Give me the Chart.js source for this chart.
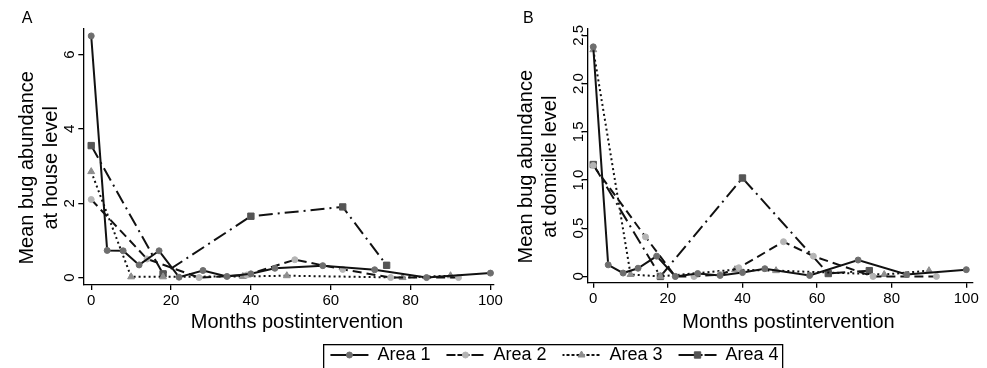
<!DOCTYPE html>
<html>
<head>
<meta charset="utf-8">
<script src="https://cdn.jsdelivr.net/npm/chart.js@4.4.1/dist/chart.umd.min.js"></script>
<style>
  body { margin: 0; background: #fff; width: 987px; height: 368px; position: relative; overflow: hidden; }
  canvas { position: absolute; }
</style>
</head>
<body>
<canvas id="panelA" width="505" height="340" style="left:0;top:0"></canvas>
<canvas id="panelB" width="487" height="340" style="left:500px;top:0"></canvas>
<canvas id="legend" width="499" height="120" style="left:305px;top:330px"></canvas>
<script>
const areaNames = ['Area 1', 'Area 2', 'Area 3', 'Area 4'];
const xTicks = [0, 20, 40, 60, 80, 100];

// A: house level
const monthsA1 = [0, 4, 8, 12, 17, 22, 28, 34, 40, 46, 58, 71, 84, 100];
const houseA1  = [6.5, 0.73, 0.72, 0.34, 0.72, 0.01, 0.19, 0.03, 0.1, 0.25, 0.32, 0.21, 0.0, 0.12];
const monthsA2 = [0, 14, 27, 39, 51, 63, 75, 92];
const houseA2  = [2.1, 0.5, 0.0, 0.07, 0.48, 0.22, 0.0, 0.0];
const monthsA3 = [0, 10, 18, 38, 49, 78, 90];
const houseA3  = [2.85, 0.02, 0.02, 0.03, 0.05, 0.0, 0.05];
const monthsA4 = [0, 18, 40, 63, 74];
const houseA4  = [3.55, 0.1, 1.65, 1.9, 0.33];

// B: domicile level
const monthsB1 = [0, 4, 8, 12, 17, 22, 28, 34, 40, 46, 58, 71, 84, 100];
const domB1    = [2.38, 0.12, 0.035, 0.085, 0.21, 0.0, 0.03, 0.01, 0.04, 0.08, 0.01, 0.17, 0.02, 0.07];
const monthsB2 = [0, 14, 22, 27, 34, 39, 51, 59, 75, 92];
const domB2    = [1.15, 0.41, 0.0, 0.0, 0.02, 0.09, 0.36, 0.21, 0.0, 0.0];
const monthsB3 = [0, 10, 18, 38, 49, 78, 90];
const domB3    = [2.35, 0.02, 0.0, 0.07, 0.06, 0.02, 0.06];
const monthsB4 = [0, 18, 40, 63, 74];
const domB4    = [1.16, 0.0, 1.02, 0.03, 0.06];

const yTicksA = [0, 2, 4, 6];
const yTicksB = [0, 0.5, 1, 1.5, 2, 2.5];

const areaStyles = [
  { dash: [],            shape: 'circle',   radius: 3,   point: '#6e6e6e' },
  { dash: [9, 5],        shape: 'circle',   radius: 3,   point: '#b4b4b4' },
  { dash: [2, 3],        shape: 'triangle', radius: 4,   point: '#8e8e8e' },
  { dash: [14, 5, 2, 5], shape: 'rect',     radius: 4.5, point: '#555555' }
];

Chart.defaults.font.family = '"Liberation Sans", Arial, Helvetica, sans-serif';
Chart.defaults.color = '#000';

function zip(xs, ys) {
  return xs.map((x, i) => ({ x: x, y: ys[i] }));
}

function makeDatasets(series) {
  return series.map((s, i) => ({
    label: areaNames[i],
    data: zip(s[0], s[1]),
    borderColor: '#111',
    borderWidth: 2,
    borderDash: areaStyles[i].dash,
    backgroundColor: 'rgba(0,0,0,0)',
    pointStyle: areaStyles[i].shape,
    pointRadius: areaStyles[i].radius,
    pointBackgroundColor: areaStyles[i].point,
    pointBorderColor: areaStyles[i].point,
    pointBorderWidth: 1,
    tension: 0
  }));
}

function panel(el, opts) {
  return new Chart(el, {
    type: 'line',
    data: { datasets: makeDatasets(opts.series) },
    options: {
      responsive: false,
      animation: false,
      events: [],
      layout: { padding: { left: opts.padLeft, right: opts.padRight, top: 0, bottom: 0 } },
      plugins: {
        legend: { display: false },
        tooltip: { enabled: false },
        title: {
          display: true, text: opts.letter, align: 'start', color: '#000',
          font: { size: 16, weight: 'normal' }, padding: { top: 9, bottom: 0.3 }
        }
      },
      scales: {
        x: {
          type: 'linear', min: opts.xMin, max: opts.xMax,
          afterFit: s => { s.height = opts.xHeight; },
          border: { display: true, color: '#000', width: 1.3 },
          grid: { display: true, drawOnChartArea: false, tickLength: 5, color: '#000', lineWidth: 1.3 },
          afterBuildTicks: s => { s.ticks = xTicks.map(v => ({ value: v })); },
          ticks: { padding: 2, maxRotation: 0, font: { size: 15 } },
          title: { display: true, text: opts.xTitle, font: { size: 20 }, padding: { top: 0, bottom: 6 } }
        },
        y: {
          type: 'linear', min: opts.yMin, max: opts.yMax,
          afterFit: s => { s.width = opts.yWidth; },
          border: { display: true, color: '#000', width: 1.3 },
          grid: { display: true, drawOnChartArea: false, tickLength: 5, color: '#000', lineWidth: 1.3 },
          afterBuildTicks: s => { s.ticks = opts.yTicks.map(v => ({ value: v })); },
          ticks: { minRotation: 90, maxRotation: 90, crossAlign: 'center', padding: opts.yTickPad, font: { size: 15 } },
          title: { display: true, text: opts.yTitle, font: { size: 20 }, padding: { top: opts.yTitlePad, bottom: 0 } }
        }
      }
    }
  });
}

panel(document.getElementById('panelA'), {
  series: [[monthsA1, houseA1], [monthsA2, houseA2], [monthsA3, houseA3], [monthsA4, houseA4]],
  letter: 'A', padLeft: 21.7, padRight: 5, xHeight: 55, yWidth: 61.6,
  xMin: -1.98, xMax: 100.9, yMin: -0.2, yMax: 6.7, yTicks: yTicksA, yTickPad: 4.1, yTitlePad: -6.7,
  xTitle: '   Months postintervention',
  yTitle: ['Mean bug abundance    ', 'at house level    ']
});

panel(document.getElementById('panelB'), {
  series: [[monthsB1, domB1], [monthsB2, domB2], [monthsB3, domB3], [monthsB4, domB4]],
  letter: 'B', padLeft: 23, padRight: 14, xHeight: 57.3, yWidth: 64.3,
  xMin: -1.6, xMax: 101.8, yMin: -0.065, yMax: 2.57, yTicks: yTicksB, yTickPad: -6.6, yTitlePad: -8.5,
  xTitle: '   Months postintervention',
  yTitle: ['Mean bug abundance    ', 'at domicile level    ']
});

// markers on the legend line samples + frame
const legendMarks = {
  id: 'legendMarks',
  afterDraw(chart) {
    const ctx = chart.ctx;
    chart.legend.legendHitBoxes.forEach((hb, i) => {
      const st = areaStyles[i];
      ctx.save();
      ctx.setLineDash([]);
      ctx.fillStyle = st.point;
      ctx.strokeStyle = st.point;
      ctx.lineWidth = 1;
      Chart.helpers.drawPoint(ctx, { pointStyle: st.shape, radius: st.radius, rotation: 0, borderWidth: 1 },
        hb.left + 19, hb.top + 9);
      ctx.restore();
    });
    ctx.save();
    ctx.strokeStyle = '#000';
    ctx.lineWidth = 1.3;
    ctx.strokeRect(18.65, 14.65, 459, 80);
    ctx.restore();
  }
};

new Chart(document.getElementById('legend'), {
  type: 'line',
  data: {
    datasets: areaNames.map((n, i) => ({
      label: n, data: [], borderColor: '#111', borderWidth: 2,
      borderDash: areaStyles[i].dash, backgroundColor: 'rgba(0,0,0,0)'
    }))
  },
  options: {
    responsive: false,
    animation: false,
    events: [],
    scales: { x: { display: false }, y: { display: false } },
    plugins: {
      tooltip: { enabled: false },
      legend: {
        display: true, position: 'top',
        labels: { boxWidth: 38, boxHeight: 0, padding: 16, color: '#000', font: { size: 18 } }
      }
    }
  },
  plugins: [legendMarks]
});
</script>
</body>
</html>
